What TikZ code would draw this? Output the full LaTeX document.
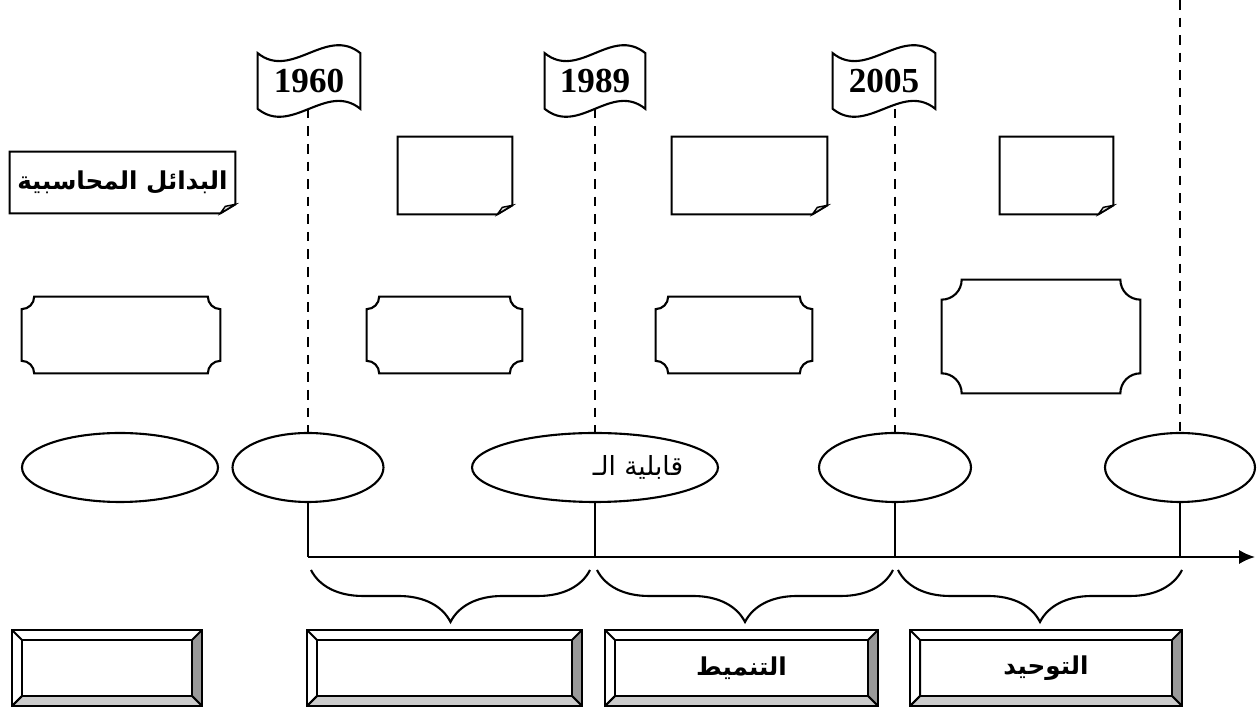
\documentclass[tikz,border=0pt]{standalone}
\usepackage{fontspec}
\setmainfont{Liberation Serif}
\newfontfamily\arabicfont[Script=Arabic]{DejaVu Sans}
\TeXXeTstate=1
\usetikzlibrary{calc,shapes.geometric,decorations.pathreplacing,arrows.meta}
\tikzset{
	flagbox/.style={
		rectangle, minimum height=1.1cm, inner sep=0pt,
		font=\bfseries\fontsize{20}{22}\selectfont,
		append after command={\pgfextra{\pgfinterruptpath
			\draw[line width=1.2pt]
			(\tikzlastnode.north west)
			.. controls +(0.68cm,-0.55cm) and +(-0.68cm,0.55cm) .. (\tikzlastnode.north east)
			-- (\tikzlastnode.south east)
			.. controls +(-0.68cm,0.55cm) and +(0.68cm,-0.55cm) .. (\tikzlastnode.south west)
			-- cycle;
		\endpgfinterruptpath}}
	},
	notebox/.style={
		rectangle, minimum height=1.54cm, inner sep=0pt,
		font=\arabicfont\bfseries\fontsize{14}{16}\selectfont,
		append after command={\pgfextra{\pgfinterruptpath
			\draw[line width=1.2pt]
			(\tikzlastnode.north west) -- (\tikzlastnode.north east)
			-- ($(\tikzlastnode.south east)+(0,0.18cm)$)
			-- ($(\tikzlastnode.south east)+(-0.3cm,0)$)
			-- (\tikzlastnode.south west) -- cycle;
			\draw[line width=0.8pt, fill=gray!25]
			($(\tikzlastnode.south east)+(-0.3cm,0)$)
			-- ($(\tikzlastnode.south east)+(-0.2cm,0.14cm)$)
			-- ($(\tikzlastnode.south east)+(0,0.18cm)$) -- cycle;
		\endpgfinterruptpath}}
	},
	plaque/.style={
		rectangle, minimum height=1.52cm, inner sep=0pt,
		append after command={\pgfextra{\pgfinterruptpath
			\draw[line width=1.2pt]
			($(\tikzlastnode.north west)+(#1,0)$) -- ($(\tikzlastnode.north east)+(-#1,0)$)
			arc[start angle=180, end angle=270, radius=#1]
			-- ($(\tikzlastnode.south east)+(0,#1)$)
			arc[start angle=90, end angle=180, radius=#1]
			-- ($(\tikzlastnode.south west)+(#1,0)$)
			arc[start angle=0, end angle=90, radius=#1]
			-- ($(\tikzlastnode.north west)+(0,-#1)$)
			arc[start angle=270, end angle=360, radius=#1]
			-- cycle;
		\endpgfinterruptpath}}
	},
	plaque/.default=0.25cm,
	bevelbox/.style={
		draw, rectangle, line width=1.5pt, minimum height=1.52cm, inner sep=0pt,
		font=\arabicfont\bfseries\fontsize{14}{16}\selectfont,
		path picture={
			\coordinate (bnw) at ($(path picture bounding box.north west)+(0.2cm,-0.2cm)$);
			\coordinate (bne) at ($(path picture bounding box.north east)+(-0.2cm,-0.2cm)$);
			\coordinate (bse) at ($(path picture bounding box.south east)+(-0.2cm,0.2cm)$);
			\coordinate (bsw) at ($(path picture bounding box.south west)+(0.2cm,0.2cm)$);
			\draw[line width=1.1pt, fill=black!40] (path picture bounding box.north east)
				-- (path picture bounding box.south east) -- (bse) -- (bne) -- cycle;
			\draw[line width=1.1pt, fill=black!20] (path picture bounding box.south west)
				-- (path picture bounding box.south east) -- (bse) -- (bsw) -- cycle;
			\draw[line width=1.1pt] (path picture bounding box.north west) -- (bnw)
				(path picture bounding box.south west) -- (bsw)
				(bnw) rectangle (bse);
		}
	},
}
\begin{document}
\begin{tikzpicture}[x=0.02cm, y=0.02cm,
		oval/.style={ellipse, draw, line width=1.2pt, minimum height=1.38cm, inner sep=0pt},
		guide/.style={line width=1.2pt, dash pattern=on 5.5pt off 4.5pt},
		stem/.style={line width=1.2pt},
		period/.style={line width=1.2pt, decorate, decoration={brace, mirror, amplitude=1.04cm}}
		]
		\useasboundingbox (0,0) rectangle (1258,709);
		
		% years
		\node[flagbox, minimum width=2.04cm] (F1) at (309,628) {1960};
		\node[flagbox, minimum width=2.0cm]  (F2) at (595,628) {1989};
		\node[flagbox, minimum width=2.04cm] (F3) at (884,628) {2005};
		
		\node[notebox, minimum width=4.5cm, minimum height=1.22cm] (N1) at (122.5,526.5) {\beginR البدائل المحاسبية\endR};
		\node[notebox, minimum width=2.28cm] (N2) at (455,533.5) {};
		\node[notebox, minimum width=3.1cm]  (N3) at (749.5,533.5) {};
		\node[notebox, minimum width=2.26cm] (N4) at (1056.5,533.5) {};
		
		\node[plaque, minimum width=3.96cm] (P1) at (121,374) {};
		\node[plaque, minimum width=3.1cm]  (P2) at (444.5,374) {};
		\node[plaque, minimum width=3.12cm] (P3) at (734,374) {};
		\node[plaque=0.4cm, minimum width=3.96cm, minimum height=2.26cm] (P4) at (1041,372.5) {};
		
		\node[oval, minimum width=3.92cm] (E1) at (120,241.5) {};
		\node[oval, minimum width=3.02cm] (E2) at (308,241.5) {};
		\node[oval, minimum width=4.92cm,
			label={[xshift=0.86cm, font=\arabicfont\fontsize{15}{18}\selectfont]center:\beginR قابلية الـ\endR}] (E3) at (595,241.5) {};
		\node[oval, minimum width=3.04cm] (E4) at (895,241.5) {};
		\node[oval, minimum width=3.0cm]  (E5) at (1180,241.5) {};
		
		% time axis
		\coordinate (A0) at (308,152);
		\coordinate (A1) at (1255,152);
		\coordinate (T5) at (1180,709);
		\draw[line width=1.2pt, -{Latex[length=9pt,width=8pt]}] (A0) -- (A1);
		
		\draw[guide] (F1.south -| E2.north) -- (E2.north);
		\draw[guide] (F2.south -| E3.north) -- (E3.north);
		\draw[guide] (F3.south -| E4.north) -- (E4.north);
		\draw[guide] (T5) -- (E5.north);
		
		\foreach \e in {E2,E3,E4,E5}
			\draw[stem] (\e.south) -- (\e.south |- A0);
		
		\coordinate (B1a) at (311,139);
		\coordinate (B1b) at (590,139);
		\coordinate (B2a) at (597,139);
		\coordinate (B2b) at (893,139);
		\coordinate (B3a) at (898,139);
		\coordinate (B3b) at (1182,139);
		\draw[period] (B1a) -- (B1b);
		\draw[period] (B2a) -- (B2b);
		\draw[period] (B3a) -- (B3b);
		
		\node[bevelbox, minimum width=3.8cm]  (R1) at (107,41) {};
		\node[bevelbox, minimum width=5.5cm]  (R2) at (444.5,41) {};
		\node[bevelbox, minimum width=5.46cm] (R3) at (741.5,41) {\beginR التنميط\endR};
		\node[bevelbox, minimum width=5.44cm] (R4) at (1046,41) {\beginR التوحيد\endR};
	\end{tikzpicture}
\end{document}
